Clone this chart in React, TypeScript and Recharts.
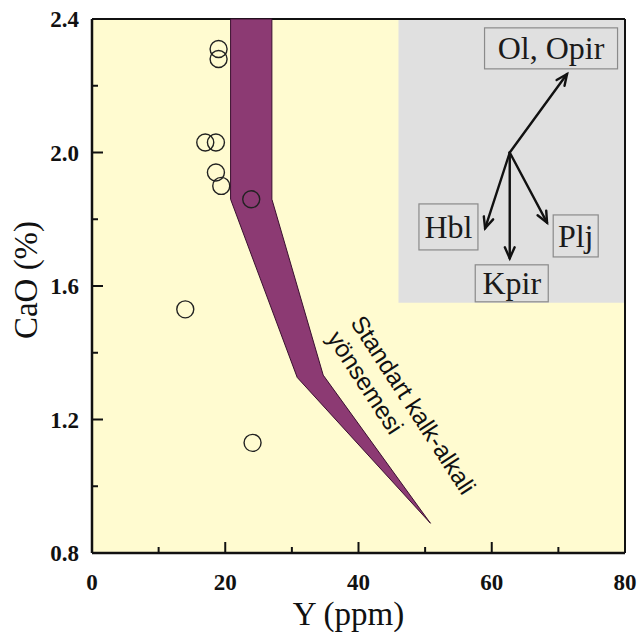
import { ScatterChart, Scatter, XAxis, YAxis, CartesianGrid, ReferenceArea, ReferenceLine } from 'recharts';

// sample points: Y (ppm) vs CaO (%)
const sampleY = [19.0, 19.0, 17.0, 18.6, 18.6, 19.4, 23.9, 14.0, 24.1];
const sampleCaO = [2.31, 2.28, 2.03, 2.03, 1.94, 1.9, 1.86, 1.53, 1.13];

// standard calc-alkaline trend band outline
const bandY = [20.8, 20.8, 30.8, 50.8, 34.7, 27.0, 27.0];
const bandCaO = [2.4, 1.86, 1.326, 0.889, 1.333, 1.86, 2.4];

const xTicks = [0, 10, 20, 30, 40, 50, 60, 70, 80];
const xTickLabels = ['0', '', '20', '', '40', '', '60', '', '80'];
const yTicks = [0.8, 1.0, 1.2, 1.4, 1.6, 1.8, 2.0, 2.2, 2.4];
const yTickLabels = ['0.8', '', '1.2', '', '1.6', '', '2.0', '', '2.4'];

// fractionation vectors
const vectorFrom = { x: 62.7, y: 2.0 };
const vectorToY = [71.3, 59.0, 62.7, 68.3];
const vectorToCaO = [2.235, 1.773, 1.683, 1.79];

const mineralNames = ['Ol, Opir', 'Hbl', 'Kpir', 'Plj'];
const mineralY = [68.9, 53.5, 63.0, 72.6];
const mineralCaO = [2.312, 1.777, 1.608, 1.75];

const grayBoxY = [46, 80];
const grayBoxCaO = [1.55, 2.4];

const trendText = ['Standart kalk-alkali', 'yönsemesi'];
const trendAnchor = { x: 38.7, y: 1.49 };

const samples = sampleY.map((x, i) => ({ x, y: sampleCaO[i] }));
const band = bandY.map((x, i) => ({ x, y: bandCaO[i] }));
const vectors = vectorToY.map((x, i) => [vectorFrom, { x, y: vectorToCaO[i] }]);
const minerals = mineralNames.map((name, i) => ({ name, x: mineralY[i], y: mineralCaO[i] }));

const serif = { fontFamily: "'Liberation Serif', 'Times New Roman', Times, serif" };
const sans = { fontFamily: "'Liberation Sans', Arial, Helvetica, sans-serif" };
const boxSize: Record<string, [number, number]> = {
  'Ol, Opir': [133, 41],
  Hbl: [59, 46],
  Kpir: [73, 37],
  Plj: [45, 42],
};

const XTick = (props: any) => {
  const { x, y, payload } = props;
  const label = xTickLabels[xTicks.indexOf(payload.value)];
  return (
    <g>
      <line x1={x} x2={x} y1={y} y2={y - (label ? 11 : 6)} stroke="#111" strokeWidth={2} />
      {label && (
        <text x={x} y={y + 37} textAnchor="middle" style={serif} fontWeight="bold" fontSize={23} fill="#111">
          {label}
        </text>
      )}
    </g>
  );
};

const YTick = (props: any) => {
  const { x, y, payload } = props;
  const label = yTickLabels[yTicks.indexOf(payload.value)];
  return (
    <g>
      <line x1={x} x2={x + (label ? 11 : 6)} y1={y} y2={y} stroke="#111" strokeWidth={2} />
      {label && (
        <text x={x - 13} y={y + 8} textAnchor="end" style={serif} fontWeight="bold" fontSize={23} fill="#111">
          {label}
        </text>
      )}
    </g>
  );
};

const bandShape = (props: any) => (
  <polygon
    points={props.points.map((p: any) => `${p.x},${p.y}`).join(' ')}
    fill="#8c3a73"
    stroke="#3a1030"
    strokeWidth={1}
  />
);

const vectorShape = (props: any) => {
  const [a, b] = props.points;
  const ang = Math.atan2(b.y - a.y, b.x - a.x);
  const len = 12;
  const spread = 0.42;
  const p1 = `${b.x - len * Math.cos(ang - spread)},${b.y - len * Math.sin(ang - spread)}`;
  const p2 = `${b.x - len * Math.cos(ang + spread)},${b.y - len * Math.sin(ang + spread)}`;
  return (
    <g stroke="#111" strokeWidth={2.4} fill="none" strokeLinecap="round">
      <line x1={a.x} y1={a.y} x2={b.x} y2={b.y} />
      <path d={`M${p1}L${b.x},${b.y}L${p2}`} />
    </g>
  );
};

const mineralShape = (props: any) => {
  const { cx, cy, payload } = props;
  const [w, h] = boxSize[payload.name];
  return (
    <g>
      <rect x={cx - w / 2} y={cy - h / 2} width={w} height={h} fill="none" stroke="#8a8a8a" strokeWidth={1.2} />
      <text x={cx} y={cy + 11} textAnchor="middle" style={serif} fontSize={32} fill="#1a1a1a">
        {payload.name}
      </text>
    </g>
  );
};

const trendShape = (props: any) => {
  const { cx, cy } = props;
  return (
    <text transform={`rotate(57 ${cx} ${cy})`} x={cx} y={cy} style={sans} fontSize={24.5} fill="#111">
      {trendText.map((t, i) => (
        <tspan key={t} x={cx} dy={i === 0 ? 0 : 28}>
          {t}
        </tspan>
      ))}
    </text>
  );
};

const sampleShape = (props: any) => (
  <circle cx={props.cx} cy={props.cy} r={8.5} fill="none" stroke="#222" strokeWidth={1.4} />
);

const hidden = () => <g />;

export default function App() {
  return (
    <div style={{ position: 'absolute', left: 0, top: 0, background: '#fff' }}>
      <ScatterChart width={638} height={632} margin={{ top: 19, right: 13, left: 0, bottom: 0 }}>
        <CartesianGrid horizontal={false} vertical={false} fill="#fffbd0" />
        <ReferenceArea
          x1={grayBoxY[0]}
          x2={grayBoxY[1]}
          y1={grayBoxCaO[0]}
          y2={grayBoxCaO[1]}
          fill="#e0e0e0"
          fillOpacity={1}
          stroke="none"
        />
        <XAxis
          type="number"
          dataKey="x"
          domain={[0, 80]}
          ticks={xTicks}
          interval={0}
          height={79}
          tickSize={0}
          tickMargin={0}
          tickLine={false}
          axisLine={{ stroke: '#111', strokeWidth: 2.5 }}
          tick={XTick}
          label={{
            content: ({ viewBox }: any) => (
              <text
                x={viewBox.x + viewBox.width / 2 - 10}
                y={viewBox.y + 72}
                textAnchor="middle"
                style={serif}
                fontSize={33}
                fill="#111"
              >
                Y (ppm)
              </text>
            ),
          }}
        />
        <YAxis
          type="number"
          dataKey="y"
          domain={[0.8, 2.4]}
          ticks={yTicks}
          interval={0}
          width={92}
          tickSize={0}
          tickMargin={0}
          tickLine={false}
          axisLine={{ stroke: '#111', strokeWidth: 2.5 }}
          tick={YTick}
          label={{
            content: ({ viewBox }: any) => {
              const lx = viewBox.x + 37;
              const ly = viewBox.y + viewBox.height / 2 - 6;
              return (
                <text
                  x={lx}
                  y={ly}
                  transform={`rotate(-90 ${lx} ${ly})`}
                  textAnchor="middle"
                  style={serif}
                  fontSize={33}
                  fill="#111"
                >
                  CaO (%)
                </text>
              );
            },
          }}
        />
        <ReferenceLine y={2.4} stroke="#111" strokeWidth={2} />
        <ReferenceLine x={80} stroke="#111" strokeWidth={2} />
        <Scatter data={band} line={bandShape} lineType="joint" shape={hidden} isAnimationActive={false} />
        {vectors.map((v, i) => (
          <Scatter key={i} data={v} line={vectorShape} lineType="joint" shape={hidden} isAnimationActive={false} />
        ))}
        <Scatter data={minerals} shape={mineralShape} isAnimationActive={false} />
        <Scatter data={[trendAnchor]} shape={trendShape} isAnimationActive={false} />
        <Scatter data={samples} shape={sampleShape} isAnimationActive={false} />
      </ScatterChart>
    </div>
  );
}
